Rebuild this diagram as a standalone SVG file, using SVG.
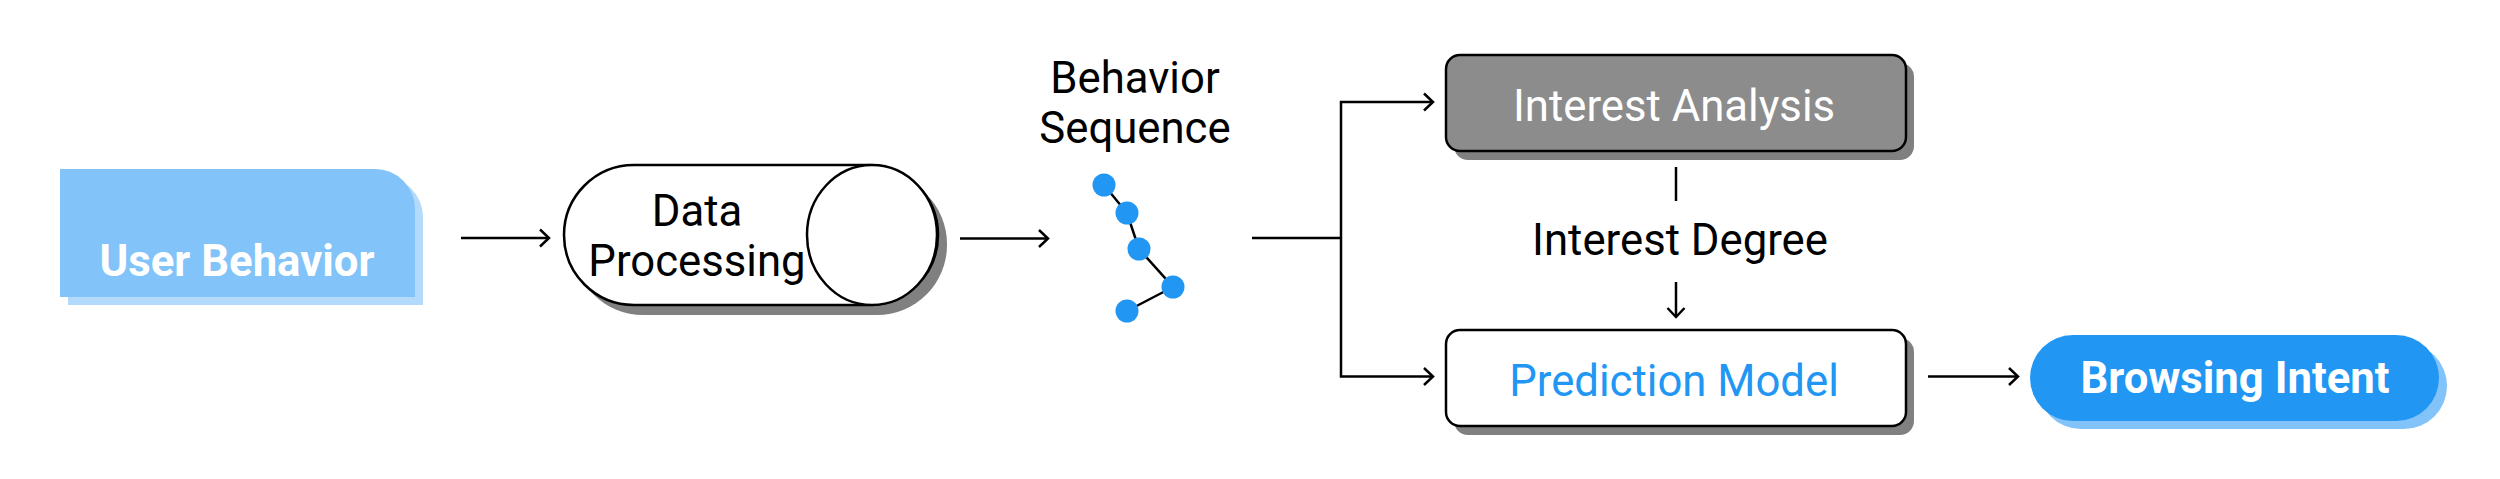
<svg xmlns="http://www.w3.org/2000/svg" width="2500" height="479" viewBox="0 0 2500 479">
<defs>
<marker id="arrow" markerUnits="userSpaceOnUse" markerWidth="20" markerHeight="20" refX="12" refY="10" orient="auto"><path d="M3 1.5 L12 10 L3 18.500" fill="none" stroke="#000" stroke-width="2.500"/></marker>
</defs>
<style>
text{font-family:Roboto,"Liberation Sans",sans-serif;font-size:43.700px;text-anchor:middle;fill:#000}
.b{font-weight:700}
.w{fill:#fff}
.c{fill:none;stroke:#000;stroke-width:2.500}
.a{marker-end:url(#arrow)}
.o{stroke:#000;stroke-width:2.500}
.dot{fill:#2196f3}
</style>
<rect width="2500" height="479" fill="#fff"/>
<g id="connectors">
<path class="c a" d="M461 238H549"/>
<path class="c a" d="M960 238.500H1048"/>
<path class="c" d="M1252 238H1341"/>
<path class="c a" d="M1341 238V102H1433"/>
<path class="c a" d="M1341 238V376.500H1433"/>
<path class="c" d="M1676 167V201"/>
<path class="c a" d="M1676 282V317"/>
<path class="c a" d="M1928 376.500H2018"/>
<path class="c" d="M1104 185L1127 213L1139 249L1173 287L1127 311"/>
</g>
<g id="user-behavior">
<path fill="#b3d9fb" d="M68 177H383a40 40 0 0 1 40 40V305H68Z"/>
<path fill="#82c3f9" d="M60 169H375a40 40 0 0 1 40 40V297H60Z"/>
<text class="b w" x="237" y="276">User Behavior</text>
</g>
<g id="data-processing">
<rect x="573" y="174" width="374" height="141" rx="70" fill="#808080"/>
<rect class="o" x="564" y="165" width="374" height="140" rx="70" fill="#fff"/>
<ellipse class="o" cx="872" cy="235" rx="65" ry="70" fill="#fff"/>
<text x="697" y="226">Data</text>
<text x="697" y="276">Processing</text>
</g>
<g id="behavior-sequence">
<text x="1135" y="93">Behavior</text>
<text x="1135" y="143">Sequence</text>
<circle class="dot" cx="1104" cy="185" r="11.500"/>
<circle class="dot" cx="1127" cy="213" r="11.500"/>
<circle class="dot" cx="1139" cy="249" r="11.500"/>
<circle class="dot" cx="1173" cy="287" r="11.500"/>
<circle class="dot" cx="1127" cy="311" r="11.500"/>
</g>
<g id="interest-analysis">
<rect x="1454" y="63" width="460" height="97" rx="14" fill="#808080"/>
<rect class="o" x="1446" y="55" width="460" height="96" rx="14" fill="#8c8c8c"/>
<text class="w" x="1674" y="121">Interest Analysis</text>
</g>
<g id="interest-degree">
<text x="1680" y="255">Interest Degree</text>
</g>
<g id="prediction-model">
<rect x="1454" y="338" width="460" height="97" rx="14" fill="#808080"/>
<rect class="o" x="1446" y="330" width="460" height="96" rx="14" fill="#fff"/>
<text x="1674" y="396" style="fill:#2196f3">Prediction Model</text>
</g>
<g id="browsing-intent">
<rect x="2038" y="343" width="409" height="86" rx="43" fill="#82c3f9"/>
<rect x="2030" y="335" width="409" height="86" rx="43" fill="#2196f3"/>
<text class="b w" x="2235" y="393">Browsing Intent</text>
</g>
</svg>
